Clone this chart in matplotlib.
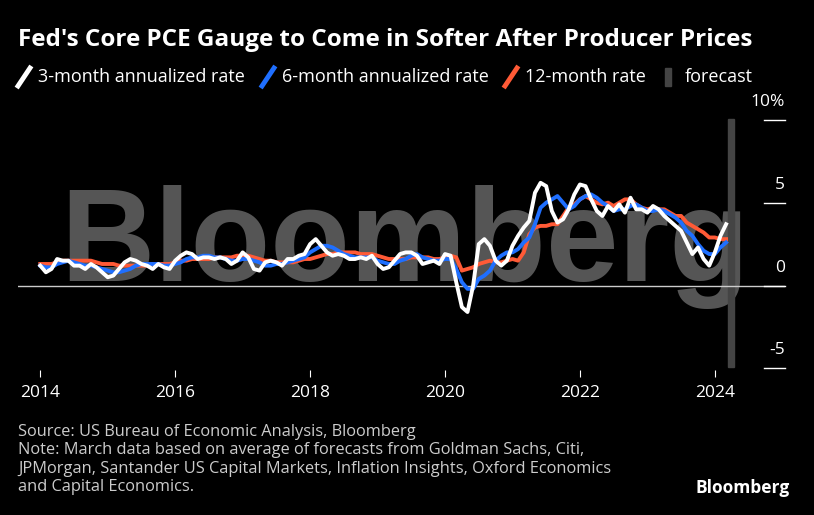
import matplotlib.pyplot as plt
import matplotlib.transforms as mtransforms
import numpy as np

# monthly, Jan 2014 .. Mar 2024
rate_3m = [1.2, 0.8, 1.0, 1.6, 1.5, 1.5, 1.2, 1.2, 1.0, 1.3, 1.1, 0.8,
           0.5, 0.6, 1.0, 1.4, 1.6, 1.5, 1.3, 1.2, 1.0, 1.3, 1.1, 1.0,
           1.5, 1.8, 2.0, 1.9, 1.6, 1.7, 1.7, 1.6, 1.7, 1.6, 1.3, 1.5,
           2.0, 1.7, 1.0, 0.9, 1.4, 1.5, 1.4, 1.2, 1.6, 1.6, 1.8, 1.9,
           2.5, 2.8, 2.4, 2.0, 1.8, 1.9, 1.8, 1.6, 1.6, 1.7, 1.6, 1.8,
           1.3, 1.0, 1.1, 1.5, 1.9, 2.0, 2.0, 1.8, 1.3, 1.4, 1.5, 1.3,
           1.9, 1.8, 0.2, -1.3, -1.6, 0.0, 2.5, 2.8, 2.4, 1.5, 1.2, 1.5,
           2.4, 3.0, 3.5, 3.9, 5.6, 6.2, 6.0, 4.5, 3.8, 4.0, 4.6, 5.5,
           6.1, 6.0, 5.2, 4.5, 4.2, 4.8, 4.5, 4.9, 4.4, 5.3, 4.6, 4.6,
           4.4, 4.8, 4.6, 4.2, 3.9, 3.6, 3.3, 2.6, 1.9, 2.3, 1.6, 1.2,
           2.0, 3.0, 3.7]
rate_6m = [1.2, 1.1, 1.1, 1.3, 1.4, 1.5, 1.4, 1.3, 1.2, 1.2, 1.1, 1.0,
           0.9, 0.8, 0.8, 0.9, 1.0, 1.2, 1.3, 1.3, 1.3, 1.3, 1.2, 1.2,
           1.3, 1.4, 1.6, 1.7, 1.7, 1.8, 1.8, 1.7, 1.7, 1.6, 1.5, 1.5,
           1.6, 1.6, 1.5, 1.4, 1.2, 1.2, 1.3, 1.3, 1.4, 1.5, 1.6, 1.7,
           2.0, 2.2, 2.4, 2.4, 2.3, 2.1, 1.9, 1.8, 1.7, 1.7, 1.7, 1.7,
           1.5, 1.4, 1.3, 1.3, 1.5, 1.6, 1.8, 1.9, 1.7, 1.6, 1.5, 1.5,
           1.6, 1.6, 1.0, 0.2, -0.2, -0.2, 0.4, 0.6, 0.9, 1.5, 1.8, 2.0,
           2.0, 2.2, 2.6, 2.9, 3.7, 4.7, 5.0, 5.2, 5.4, 5.0, 4.6, 4.8,
           5.2, 5.4, 5.5, 5.3, 5.0, 4.8, 4.5, 4.6, 4.6, 4.8, 4.9, 4.7,
           4.5, 4.5, 4.6, 4.5, 4.3, 4.1, 3.8, 3.3, 3.0, 2.5, 2.1, 1.9,
           1.9, 2.3, 2.6]
rate_12m = [1.3, 1.3, 1.3, 1.4, 1.5, 1.5, 1.5, 1.5, 1.5, 1.5, 1.4, 1.3,
            1.3, 1.3, 1.2, 1.2, 1.2, 1.2, 1.2, 1.2, 1.3, 1.3, 1.3, 1.3,
            1.4, 1.5, 1.5, 1.6, 1.6, 1.6, 1.6, 1.7, 1.7, 1.7, 1.7, 1.8,
            1.8, 1.8, 1.7, 1.6, 1.5, 1.5, 1.4, 1.4, 1.4, 1.4, 1.5, 1.6,
            1.6, 1.7, 1.8, 1.9, 1.9, 2.0, 2.0, 2.0, 2.0, 1.9, 1.9, 1.9,
            1.8, 1.7, 1.6, 1.6, 1.6, 1.6, 1.7, 1.7, 1.7, 1.7, 1.6, 1.6,
            1.7, 1.8, 1.7, 0.9, 1.0, 1.1, 1.3, 1.4, 1.5, 1.4, 1.4, 1.5,
            1.6, 1.5, 2.0, 3.1, 3.5, 3.6, 3.6, 3.7, 3.7, 4.2, 4.7, 4.9,
            5.2, 5.4, 5.2, 5.0, 4.9, 5.0, 4.8, 5.0, 5.2, 5.2, 4.9, 4.7,
            4.6, 4.7, 4.6, 4.6, 4.4, 4.2, 4.2, 3.8, 3.6, 3.4, 3.2, 2.9,
            2.9, 2.8, 2.8]
y_ticks = [10, 5, 0, -5]
x_ticks = [2014, 2016, 2018, 2020, 2022, 2024]

t = 2014 + np.arange(len(rate_3m)) / 12

plt.rcParams['font.family'] = ['Open Sans', 'DejaVu Sans']
fig = plt.figure(figsize=(8.14, 5.15), dpi=100, facecolor='black')
ax = fig.add_axes([18 / 814, 1 - 370 / 515, 767 / 814, 270 / 515], facecolor='black')

fig.text(18 / 814, 1 - 40 / 515, "Fed's Core PCE Gauge to Come in Softer After Producer Prices",
         color='white', fontsize=17.5, fontweight='bold', va='center')

# legend
leg = [('3-month annualized rate', 'white'), ('6-month annualized rate', '#1f6fff'),
       ('12-month rate', '#ff5a36'), ('forecast', '#444444')]
xs = [18, 262, 505, 665]
for (lab, c), x in zip(leg, xs):
    if lab == 'forecast':
        fig.patches.append(plt.Rectangle((x / 814, 1 - 86 / 515), 6 / 814, 18 / 515,
                                         transform=fig.transFigure, color=c))
    else:
        fig.lines.append(plt.Line2D([x / 814, (x + 12) / 814], [1 - 86 / 515, 1 - 68 / 515],
                                    transform=fig.transFigure, color=c, lw=3.5))
    fig.text((x + 20) / 814, 1 - 77 / 515, lab, color='white', fontsize=13, va='center')

# watermark
ax.text(2019.4, 2.3, 'Bloomberg', color='#555555', fontsize=94, fontweight='bold',
        ha='center', va='center', zorder=0, family='Liberation Sans')

ax.axvspan(2024.2, 2024.28, ymin=0.01, ymax=0.93, color='#444444', zorder=1)
ax.axhline(0, color='#cccccc', lw=1, zorder=2)

ax.plot(t, rate_12m, color='#ff5a36', lw=2.8, zorder=3)
ax.plot(t, rate_6m, color='#1f6fff', lw=2.8, zorder=4)
ax.plot(t, rate_3m, color='white', lw=2.8, zorder=5)

ax.set_xlim(2013.67, 2025.04)
ax.set_ylim(-5.1, 11.2)
for s in ax.spines.values():
    s.set_visible(False)
ax.set_yticks([])
ax.set_xticks(x_ticks)
ax.set_xticklabels([str(x) for x in x_ticks])
ax.tick_params(axis='x', colors='white', labelsize=12.5, length=5, pad=6)

tr = mtransforms.blended_transform_factory(ax.transAxes, ax.transData)
for v in y_ticks:
    lab = '10%' if v == 10 else str(v)
    ax.plot([0.972, 1.0], [v, v], color='white', lw=1, transform=tr, clip_on=False)
    ax.text(1.0, v + 0.6, lab, color='white', fontsize=12.5, ha='right', va='bottom', transform=tr)

notes = ("Source: US Bureau of Economic Analysis, Bloomberg\n"
         "Note: March data based on average of forecasts from Goldman Sachs, Citi,\n"
         "JPMorgan, Santander US Capital Markets, Inflation Insights, Oxford Economics\n"
         "and Capital Economics.")
fig.text(18 / 814, 1 - 424 / 515, notes, color='#cccccc', fontsize=11.8, va='top', linespacing=1.2)
fig.text(790 / 814, 1 - 488 / 515, 'Bloomberg', color='white', fontsize=12.5, fontweight='bold',
         ha='right', va='center')

fig.savefig('out.png', dpi=100, facecolor='black')
